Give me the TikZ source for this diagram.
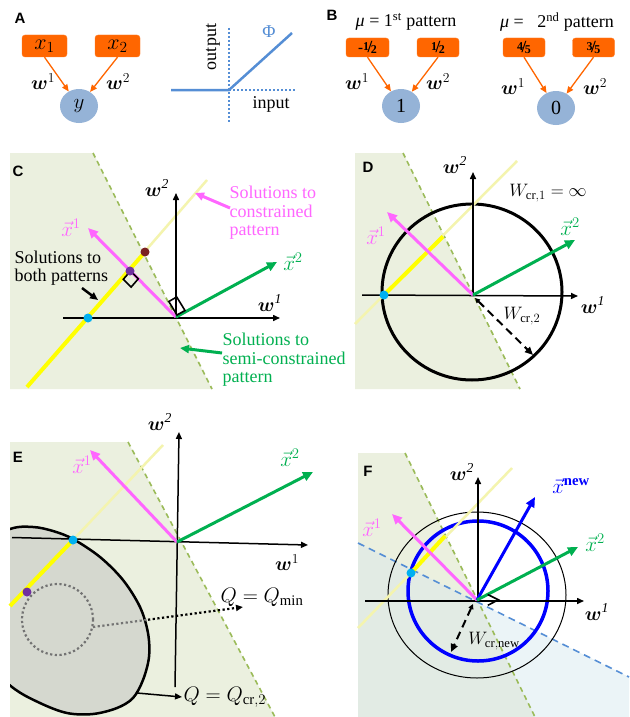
\RequirePackage{fix-cm}
\documentclass[tikz,border=0pt]{standalone}
\usepackage{amsmath}
\usepackage{bm}
\usepackage{fontspec}
\setmainfont{Liberation Serif}
\newfontfamily\labfont{Liberation Sans}
\usetikzlibrary{arrows.meta,shapes.geometric}
\definecolor{orng}{HTML}{FF6600}
\definecolor{nodeblue}{HTML}{95B3D7}
\definecolor{bggreen}{HTML}{EBF0DF}
\definecolor{olivec}{HTML}{9BBB59}
\definecolor{mag}{HTML}{FF66FF}
\definecolor{vgreen}{HTML}{00B050}
\definecolor{paley}{HTML}{F4F4AE}
\definecolor{yel}{HTML}{FFFF00}
\definecolor{dotblue}{HTML}{00B0F0}
\definecolor{dotpurple}{HTML}{7030A0}
\definecolor{dotbrown}{HTML}{7B2222}
\definecolor{relublue}{HTML}{558ED5}
\definecolor{ellgray}{HTML}{D5D8CF}
\definecolor{lblue}{HTML}{EBF4F7}
\definecolor{overlapc}{HTML}{E2EBE4}
\definecolor{xnewc}{HTML}{0000FF}
\newcommand\bfr[2]{{\bfseries\raisebox{0.5ex}{\fontsize{12}{12}\selectfont #1}\kern-0.14em{\fontsize{17}{17}\selectfont /}\kern-0.14em\raisebox{-0.25ex}{\fontsize{12}{12}\selectfont #2}}}
\tikzset{
  axarrow/.style={line width=1.5pt, -{Triangle[length=7pt,width=6pt]}},
  vecarrow/.style={line width=3pt, -{Triangle[length=10pt,width=9pt]}},
  odash/.style={draw=olivec, line width=1.6pt, dash pattern=on 5pt off 4pt},
  paleline/.style={draw=paley, line width=2.5pt},
  brightline/.style={draw=yel, line width=4pt},
  pdot/.style={circle, inner sep=0pt, minimum size=9pt},
  inbox/.style={fill=orng, draw=orng!85!white, rounded corners=3pt, minimum width=45pt, minimum height=22pt, inner sep=0pt},
  outnode/.style={ellipse, fill=nodeblue, minimum width=38pt, minimum height=34pt, inner sep=0pt},
  oarrow/.style={draw=orng, line width=1.3pt, -{Triangle[length=7pt,width=6pt]}},
  panel/.style={font=\labfont\bfseries\fontsize{15}{15}\selectfont},
  tx/.style={font=\fontsize{18}{18.5}\selectfont},
  wlab/.style={font=\fontsize{19.5}{19.5}\selectfont},
  mtx/.style={font=\fontsize{21}{21}\selectfont},
  callout/.style={line width=3pt, -{Triangle[length=9pt,width=8pt]}},
  dasharrow/.style={line width=2pt, dash pattern=on 8pt off 5pt, {Triangle[length=5pt,width=5pt]}-{Triangle[length=8pt,width=7pt]}},
}
\begin{document}
\begin{tikzpicture}[x=1pt,y=-1pt]
\useasboundingbox[fill=white] (0,0) rectangle (629,717);

% ================= Panel A =================
\node[panel] (lA) at (20,18) {A};
\node[inbox] (x1) at (44.5,46) {\fontsize{22}{22}\selectfont $x_1$};
\node[inbox] (x2) at (117.5,46) {\fontsize{22}{22}\selectfont $x_2$};
\node[outnode] (y) at (79,106) {\fontsize{21}{21}\selectfont $y$};
\draw[oarrow] (x1.south) -- (y);
\draw[oarrow] (x2.south) -- (y);
\node[wlab] (wA1) at (43,82) {$\bm{w}^1$};
\node[wlab] (wA2) at (118,82) {$\bm{w}^2$};
% ReLU
\coordinate (rk) at (229,90);
\coordinate (rl) at (171,90);
\coordinate (rr) at (292,33);
\draw[relublue, line width=2pt, dotted] (229,28) -- (229,122);
\draw[relublue, line width=2pt, dotted] (rk) -- (295,90);
\draw[relublue, line width=2.5pt] (rl) -- (rk) -- (rr);
\node[tx, rotate=90] (outl) at (213,47) {output};
\node[tx, text=relublue] (phi) at (269,32) {Φ};
\node[tx] (inl) at (271,104) {input};

% ================= Panel B =================
\node[panel] (lB) at (332,15) {B};
\node[tx] (mu1) at (406,22) {{\itshape μ} = 1\textsuperscript{st} pattern};
\node[tx] (mu2) at (557,22) {{\itshape μ} =\ \ \ 2\textsuperscript{nd} pattern};
\node[inbox, minimum width=43pt, minimum height=19pt] (b1) at (367.5,47.5) {{\bfseries\fontsize{15}{15}\selectfont -}\bfr{1}{2}};
\node[inbox, minimum width=42pt, minimum height=19pt] (b2) at (438,47.5) {\bfr{1}{2}};
\node[inbox, minimum width=42pt, minimum height=19pt] (b3) at (524,47.5) {\bfr{4}{5}};
\node[inbox, minimum width=42pt, minimum height=19pt] (b4) at (593.5,47.5) {\bfr{3}{5}};
\node[outnode] (c1) at (401,106) {\fontsize{20}{20}\selectfont 1};
\node[outnode] (c2) at (556,108) {\fontsize{20}{20}\selectfont 0};
\draw[oarrow] (b1.south) -- (c1);
\draw[oarrow] (b2.south) -- (c1);
\draw[oarrow] (b3.south) -- (c2);
\draw[oarrow] (b4.south) -- (c2);
\node[wlab] (wB1) at (357,82) {$\bm{w}^1$};
\node[wlab] (wB2) at (438,82) {$\bm{w}^2$};
\node[wlab] (wB3) at (513,87) {$\bm{w}^1$};
\node[wlab] (wB4) at (595,87) {$\bm{w}^2$};

% ================= Panel C =================
\fill[bggreen] (10,153) -- (93,153) -- (212,389) -- (10,389) -- cycle;
\draw[odash] (93,153) -- (212,389);
\coordinate (oC) at (176,317);
\draw[paleline] (27,387) -- (207,180);
\draw[brightline] (27,387) -- (145,252);
\draw[axarrow] (63,318) -- (280,318);
\draw[axarrow] (176,318) -- (176,193);
\draw[vecarrow, draw=mag, fill=mag] (oC) -- (88,228);
\draw[vecarrow, draw=vgreen, fill=vgreen] (oC) -- (277,262);
\draw[line width=1.6pt] (130.5,271) -- (138.3,278.8) -- (131.1,287.1) -- (123.3,279.3) -- cycle;
\draw[line width=1.6pt] (177,315) -- (185,310.5) -- (176.7,297) -- (168.8,301.5) -- cycle;
\node[pdot, fill=dotblue] (dC1) at (88,318) {};
\node[pdot, fill=dotpurple] (dC2) at (130,271) {};
\node[pdot, fill=dotbrown] (dC3) at (145,252) {};
\node[panel] (lC) at (18,171) {C};
\node[wlab] (wC2) at (157,188) {$\bm{w}^{\mathit{2}}$};
\node[wlab] (wC1) at (270,303) {$\bm{w}^{\mathit{1}}$};
\node[mtx, text=mag] (xC1) at (71,228) {$\vec{x}^1$};
\node[mtx, text=vgreen] (xC2) at (293,262) {$\vec{x}^2$};
\node[tx, text=mag, align=left, anchor=west] (tcon) at (226,213) {Solutions to\\constrained\\pattern};
\node[tx, align=left, anchor=west] (tboth) at (11,268) {Solutions to\\both patterns};
\node[tx, text=vgreen, align=left, anchor=west] (tsemi) at (219,360) {Solutions to\\semi-constrained\\pattern};
\coordinate (pC1) at (195,193);
\coordinate (pC2) at (98,300);
\coordinate (pC3) at (180,348);
\draw[callout, draw=mag, fill=mag] (230,208) -- (pC1);
\draw[line width=2.5pt, -{Triangle[length=8pt,width=7pt]}] (82,288) -- (pC2);
\draw[callout, draw=vgreen, fill=vgreen] (222,353) -- (pC3);

% ================= Panel D =================
\fill[bggreen] (355,153) -- (403,153) -- (520,389) -- (355,389) -- cycle;
\draw[odash] (403,153) -- (520,389);
\coordinate (oD) at (473,295);
\draw[line width=3pt] (472,292) ellipse [x radius=90pt, y radius=88pt];
\draw[paleline] (355,324) -- (517,161);
\draw[brightline] (384,295) -- (443,236.5);
\draw[axarrow] (362,295) -- (578,296);
\draw[axarrow] (473,295) -- (473,172);
\draw[vecarrow, draw=mag, fill=mag] (oD) -- (387,212);
\draw[vecarrow, draw=vgreen, fill=vgreen] (oD) -- (575,240);
\node[pdot, fill=dotblue] (dD1) at (384,295) {};
\draw[dasharrow] (475,298) -- (533,355);
\node[panel] (lD) at (368,167) {D};
\node[wlab] (wD2) at (455,165) {$\bm{w}^{\mathit{2}}$};
\node[wlab] (wD1) at (593,305) {$\bm{w}^{\mathit{1}}$};
\node[mtx, text=mag] (xD1) at (376,236) {$\vec{x}^1$};
\node[mtx, text=vgreen] (xD2) at (570,227) {$\vec{x}^2$};
\node[tx] (wcr1) at (548,193) {$W_{\mathrm{cr},1}=\infty$};
\node[tx] (wcr2) at (522,316) {$W_{\mathrm{cr},2}$};

% ================= Panel E =================
\fill[bggreen] (10,442) -- (128,442) -- (275,717) -- (10,717) -- cycle;
\draw[odash] (128,442) -- (275,717);
\begin{scope}
\clip (10,420) rectangle (320,717);
\draw[line width=2.5pt, fill=ellgray] plot[smooth cycle, tension=0.55] coordinates {(-30,548) (10,529) (33,527) (53,531) (73,539) (100,557) (123,580) (140,607) (148,633) (149,657) (143,680) (133,698) (117,708) (93,714) (67,713) (40,703) (12,687) (-20,655) (-35,600)};
\end{scope}
\draw[line width=2.2pt, dash pattern=on 2.2pt off 2.5pt, draw=black!55] (57.5,619.5) circle [radius=35.5pt];
\draw[line width=2.2pt, dash pattern=on 2.2pt off 2.5pt, draw=black!55] (93,627) -- (148,619.7);
\draw[line width=2.2pt, dash pattern=on 2.2pt off 2.5pt, -{Triangle[length=7pt,width=6pt]}] (148,619.7) -- (243,607);
\draw[paleline] (163,445) -- (73,540);
\draw[brightline] (73,540) -- (10,606);
\draw[axarrow] (12,537.5) -- (308,545);
\draw[axarrow] (175,687) -- (179,432);
\coordinate (oE) at (177,542);
\draw[vecarrow, draw=mag, fill=mag] (oE) -- (90,450);
\draw[vecarrow, draw=vgreen, fill=vgreen] (oE) -- (313,472);
\node[pdot, fill=dotblue] (dE1) at (73,540) {};
\node[pdot, fill=dotpurple] (dE2) at (27,592) {};
\coordinate (pE1) at (182,697);
\draw[line width=1.5pt, -{Triangle[length=7pt,width=6pt]}] (137,693) -- (pE1);
\node[panel] (lE) at (18,457) {E};
\node[wlab] (wE2) at (160,422) {$\bm{w}^{\mathit{2}}$};
\node[wlab] (wE1) at (287,563) {$\bm{w}^1$};
\node[mtx, text=mag] (xE1) at (82,465) {$\vec{x}^1$};
\node[mtx, text=vgreen] (xE2) at (290,458) {$\vec{x}^2$};
\node[mtx] (qmin) at (262,597) {$Q = Q_{\min}$};
\node[mtx, anchor=west] (qcr) at (180,697) {$Q = Q_{\mathrm{cr},2}$};

% ================= Panel F =================
\fill[bggreen] (358,453) -- (405,453) -- (535,717) -- (358,717) -- cycle;
\fill[lblue] (358,543) -- (629,677) -- (629,717) -- (358,717) -- cycle;
\begin{scope}
\clip (358,453) -- (405,453) -- (535,717) -- (358,717) -- cycle;
\fill[overlapc] (358,543) -- (629,677) -- (629,717) -- (358,717) -- cycle;
\end{scope}
\draw[odash] (405,453) -- (535,717);
\draw[draw=relublue, line width=1.6pt, dash pattern=on 7pt off 5pt] (358,543) -- (629,677);
\coordinate (oF) at (477,600);
\draw[line width=1pt] (477,595) ellipse [x radius=89pt, y radius=83pt];
\draw[draw=xnewc, line width=3.5pt] (478,591) circle [radius=70pt];
\draw[paleline] (358,628) -- (512,468);
\draw[brightline] (411,573) -- (445,536);
\draw[axarrow] (365,601) -- (584,601);
\draw[axarrow] (478,601) -- (478,477);
\draw[vecarrow, draw=mag, fill=mag] (oF) -- (392,514);
\draw[vecarrow, draw=xnewc, fill=xnewc] (oF) -- (535,497);
\draw[vecarrow, draw=vgreen, fill=vgreen] (oF) -- (578,547);
\draw[line width=1.6pt] (487.7,594.5) -- (498.4,599.8) -- (487.8,605.3);
\node[pdot, fill=dotblue] (dF1) at (411,573) {};
\draw[dasharrow] (473,604) -- (451,652);
\node[panel] (lF) at (368,471) {F};
\node[wlab] (wF2) at (462,472) {$\bm{w}^{\mathit{2}}$};
\node[wlab] (wF1) at (597,612) {$\bm{w}^{\mathit{1}}$};
\node[mtx, text=mag] (xF1) at (372,528) {$\vec{x}^1$};
\node[mtx, text=xnewc] (xFn) at (571,486) {$\vec{x}^{\mathbf{new}}$};
\node[mtx, text=vgreen] (xF2) at (595,543) {$\vec{x}^2$};
\node[tx] (wcrn) at (494,641) {$W_{\mathrm{cr,new}}$};
\end{tikzpicture}
\end{document}
